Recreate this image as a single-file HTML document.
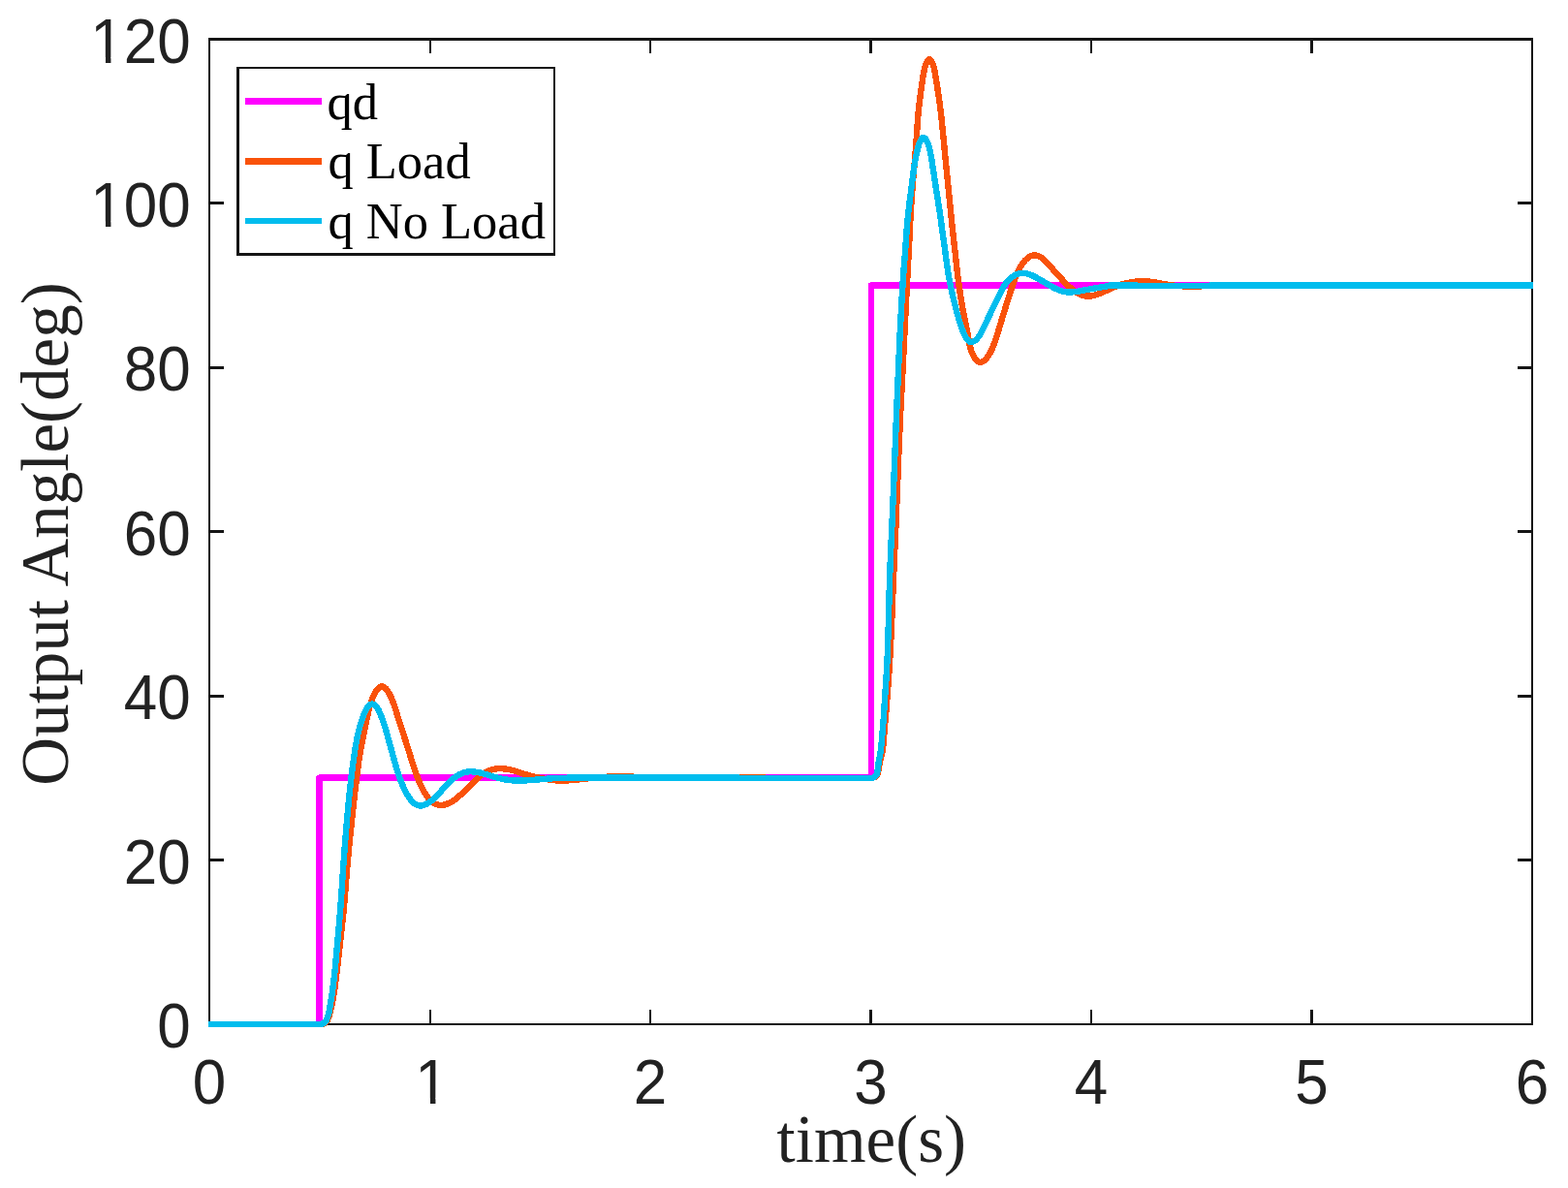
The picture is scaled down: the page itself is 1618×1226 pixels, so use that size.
<!DOCTYPE html>
<html lang="en">
<head>
<meta charset="utf-8">
<title>Output Angle vs time</title>
<style>
html,body{margin:0;padding:0;background:#ffffff;}
body{width:1618px;height:1226px;overflow:hidden;}
svg{display:block;}
</style>
</head>
<body>
<svg width="1618" height="1226" viewBox="0 0 1618 1226">
<rect x="0" y="0" width="1618" height="1226" fill="#ffffff"/>
<g fill="#151515" shape-rendering="crispEdges">
<rect x="215" y="39" width="1367" height="3"/>
<rect x="215" y="1056" width="1367" height="2"/>
<rect x="215" y="39" width="2" height="1019"/>
<rect x="1580" y="39" width="2" height="1019"/>
<rect x="443" y="1042" width="2" height="14"/>
<rect x="443" y="42" width="2" height="13"/>
<rect x="670" y="1042" width="2" height="14"/>
<rect x="670" y="42" width="2" height="13"/>
<rect x="897" y="1042" width="3" height="14"/>
<rect x="897" y="42" width="3" height="13"/>
<rect x="1125" y="1042" width="2" height="14"/>
<rect x="1125" y="42" width="2" height="13"/>
<rect x="1352" y="1042" width="3" height="14"/>
<rect x="1352" y="42" width="3" height="13"/>
<rect x="217" y="886" width="14" height="3"/>
<rect x="1566" y="886" width="14" height="3"/>
<rect x="217" y="717" width="14" height="3"/>
<rect x="1566" y="717" width="14" height="3"/>
<rect x="217" y="547" width="14" height="3"/>
<rect x="1566" y="547" width="14" height="3"/>
<rect x="217" y="378" width="14" height="3"/>
<rect x="1566" y="378" width="14" height="3"/>
<rect x="217" y="208" width="14" height="3"/>
<rect x="1566" y="208" width="14" height="3"/>
</g>
<path d="M215.0,1057.0 L329.5,1057.0 L329.5,802.6 L899.0,802.6 L899.0,294.6 L1582.0,294.6" fill="none" shape-rendering="crispEdges" stroke="#FF00FF" stroke-width="6.4" stroke-linejoin="round"/>
<path d="M215.00,1057.00 L331.05,1057.09 C333.44,1056.76 335.70,1056.06 337.10,1054.21 C338.49,1052.35 339.13,1049.95 339.79,1047.66 C340.44,1045.36 341.03,1043.09 341.56,1040.81 C342.10,1038.52 342.59,1036.23 343.04,1033.92 C343.49,1031.61 343.90,1029.30 344.29,1026.97 C344.68,1024.64 345.03,1022.31 345.37,1019.98 C345.71,1017.65 346.04,1015.31 346.34,1012.98 C346.65,1010.64 346.95,1008.30 347.23,1005.97 C347.51,1003.63 347.79,1001.29 348.06,998.95 C348.32,996.62 348.59,994.28 348.85,991.94 C349.10,989.60 349.36,987.26 349.62,984.92 C349.88,982.58 350.14,980.24 350.41,977.91 C350.67,975.57 350.94,973.23 351.21,970.89 C351.48,968.55 351.75,966.21 352.02,963.87 C352.29,961.54 352.56,959.20 352.82,956.86 C353.08,954.52 353.34,952.18 353.59,949.84 C353.84,947.50 354.08,945.16 354.31,942.81 C354.55,940.47 354.77,938.13 354.98,935.78 C355.18,933.44 355.38,931.09 355.58,928.75 C355.77,926.40 355.96,924.05 356.14,921.71 C356.32,919.36 356.50,917.01 356.68,914.67 C356.86,912.32 357.04,909.97 357.22,907.62 C357.41,905.28 357.59,902.93 357.79,900.58 C357.98,898.24 358.18,895.89 358.39,893.55 C358.59,891.20 358.81,888.86 359.03,886.52 C359.24,884.17 359.47,881.83 359.69,879.49 C359.92,877.14 360.15,874.80 360.39,872.46 C360.62,870.11 360.86,867.77 361.10,865.43 C361.34,863.09 361.58,860.75 361.82,858.41 C362.06,856.06 362.30,853.72 362.54,851.38 C362.79,849.04 363.03,846.70 363.28,844.36 C363.52,842.02 363.77,839.67 364.02,837.33 C364.27,834.99 364.53,832.65 364.79,830.31 C365.04,827.97 365.30,825.63 365.57,823.30 C365.83,820.96 366.10,818.62 366.38,816.28 C366.65,813.94 366.93,811.60 367.21,809.27 C367.49,806.93 367.78,804.59 368.07,802.26 C368.35,799.92 368.65,797.58 368.95,795.25 C369.24,792.91 369.55,790.58 369.87,788.25 C370.19,785.91 370.53,783.58 370.89,781.26 C371.25,778.93 371.63,776.61 372.03,774.29 C372.44,771.97 372.86,769.66 373.30,767.35 C373.74,765.04 374.20,762.73 374.66,760.43 C375.13,758.14 375.60,755.84 376.09,753.55 C376.57,751.25 377.06,748.95 377.55,746.64 C378.05,744.33 378.56,742.00 379.07,739.65 C379.58,737.30 380.09,734.93 380.67,732.56 C381.24,730.18 381.87,727.81 382.61,725.45 C383.35,723.10 384.20,720.77 385.21,718.48 C386.22,716.19 387.39,713.88 388.75,712.02 C390.10,710.16 391.67,708.71 393.31,708.37 C394.94,708.03 396.61,709.00 398.08,710.56 C399.55,712.12 400.85,714.27 402.00,716.50 C403.16,718.74 404.17,721.03 405.08,723.33 C405.99,725.63 406.80,727.95 407.56,730.27 C408.32,732.59 409.02,734.91 409.73,737.21 C410.43,739.52 411.14,741.80 411.86,744.06 C412.59,746.32 413.32,748.56 414.06,750.80 C414.80,753.03 415.54,755.25 416.27,757.48 C417.00,759.71 417.71,761.95 418.42,764.19 C419.13,766.43 419.83,768.67 420.53,770.92 C421.23,773.16 421.92,775.41 422.61,777.66 C423.31,779.91 424.00,782.16 424.71,784.40 C425.41,786.64 426.13,788.88 426.87,791.12 C427.61,793.36 428.37,795.60 429.16,797.82 C429.95,800.05 430.78,802.28 431.66,804.49 C432.54,806.70 433.48,808.89 434.50,811.06 C435.53,813.22 436.64,815.35 437.86,817.43 C439.08,819.51 440.41,821.57 441.90,823.45 C443.39,825.34 445.04,827.04 446.90,828.35 C448.77,829.67 450.84,830.59 453.03,830.90 C455.22,831.20 457.51,830.89 459.76,830.21 C462.00,829.53 464.18,828.49 466.25,827.26 C468.31,826.03 470.25,824.60 472.09,823.07 C473.94,821.55 475.69,819.92 477.40,818.26 C479.11,816.60 480.79,814.92 482.47,813.24 C484.14,811.56 485.81,809.89 487.50,808.22 C489.18,806.55 490.88,804.88 492.63,803.29 C494.39,801.70 496.20,800.20 498.14,798.88 C500.07,797.56 502.14,796.44 504.30,795.55 C506.46,794.66 508.71,794.00 511.01,793.60 C513.31,793.20 515.66,793.09 518.01,793.19 C520.36,793.28 522.71,793.59 525.02,794.04 C527.34,794.49 529.62,795.09 531.88,795.78 C534.14,796.47 536.38,797.23 538.62,797.97 C540.86,798.70 543.11,799.40 545.37,800.05 C547.64,800.70 549.91,801.29 552.21,801.82 C554.50,802.35 556.81,802.83 559.12,803.27 C561.44,803.72 563.76,804.13 566.09,804.48 C568.42,804.83 570.76,805.12 573.10,805.31 C575.44,805.51 577.79,805.61 580.14,805.60 C582.49,805.59 584.84,805.47 587.19,805.29 C589.54,805.12 591.88,804.90 594.23,804.65 C596.57,804.41 598.91,804.15 601.25,803.89 C603.59,803.62 605.93,803.36 608.28,803.12 C610.62,802.88 612.96,802.66 615.31,802.46 C617.66,802.26 620.00,802.09 622.35,801.93 C624.70,801.78 627.05,801.64 629.41,801.54 C631.76,801.43 634.11,801.35 636.46,801.32 C638.82,801.29 641.17,801.30 643.52,801.35 C645.87,801.40 648.23,801.48 650.58,801.58 C652.93,801.67 655.29,801.77 657.64,801.87 C659.99,801.96 662.34,802.05 664.70,802.14 C667.05,802.22 669.40,802.30 671.76,802.36 C674.11,802.43 676.46,802.48 678.81,802.53 C681.17,802.57 683.52,802.60 685.88,802.62 C688.23,802.63 690.58,802.64 692.94,802.65 C695.29,802.65 697.65,802.65 700.00,802.65 L900.60,802.77 C902.91,802.28 904.80,801.18 905.61,798.95 C906.43,796.73 906.67,794.30 906.95,791.95 C907.22,789.60 907.63,787.29 908.22,785.02 C908.80,782.75 909.48,780.50 909.98,778.22 C910.49,775.94 910.86,773.63 911.16,771.30 C911.45,768.98 911.66,766.64 911.85,764.29 C912.03,761.95 912.19,759.60 912.38,757.26 C912.56,754.92 912.76,752.58 912.96,750.25 C913.16,747.91 913.36,745.58 913.57,743.25 C913.77,740.91 913.97,738.58 914.17,736.25 C914.37,733.91 914.56,731.58 914.75,729.24 C914.94,726.91 915.13,724.57 915.31,722.23 C915.50,719.90 915.68,717.56 915.86,715.22 C916.05,712.89 916.22,710.55 916.40,708.21 C916.57,705.88 916.75,703.54 916.91,701.20 C917.08,698.86 917.24,696.53 917.39,694.19 C917.54,691.85 917.69,689.51 917.84,687.17 C917.98,684.83 918.12,682.49 918.25,680.16 C918.39,677.82 918.52,675.48 918.64,673.14 C918.77,670.80 918.89,668.46 919.01,666.12 C919.13,663.77 919.25,661.43 919.36,659.09 C919.47,656.75 919.58,654.41 919.69,652.07 C919.79,649.73 919.90,647.39 920.00,645.05 C920.10,642.71 920.21,640.36 920.30,638.02 C920.40,635.68 920.50,633.34 920.60,631.00 C920.70,628.66 920.79,626.31 920.89,623.97 C920.98,621.63 921.08,619.29 921.17,616.95 C921.27,614.60 921.36,612.26 921.46,609.92 C921.56,607.58 921.65,605.24 921.75,602.90 C921.85,600.55 921.95,598.21 922.05,595.87 C922.15,593.53 922.25,591.19 922.35,588.85 C922.45,586.51 922.56,584.16 922.66,581.82 C922.76,579.48 922.87,577.14 922.97,574.80 C923.08,572.46 923.18,570.12 923.28,567.78 C923.39,565.44 923.49,563.09 923.60,560.75 C923.70,558.41 923.80,556.07 923.91,553.73 C924.01,551.39 924.11,549.05 924.21,546.71 C924.31,544.36 924.41,542.02 924.51,539.68 C924.61,537.34 924.71,535.00 924.80,532.66 C924.90,530.32 924.99,527.98 925.09,525.63 C925.18,523.29 925.28,520.95 925.37,518.61 C925.46,516.27 925.55,513.93 925.64,511.58 C925.74,509.24 925.83,506.90 925.92,504.56 C926.01,502.22 926.10,499.87 926.19,497.53 C926.28,495.19 926.37,492.85 926.46,490.51 C926.55,488.17 926.65,485.82 926.74,483.48 C926.83,481.14 926.92,478.80 927.02,476.46 C927.11,474.12 927.20,471.77 927.30,469.43 C927.39,467.09 927.49,464.75 927.59,462.41 C927.69,460.07 927.78,457.73 927.88,455.38 C927.99,453.04 928.09,450.70 928.19,448.36 C928.29,446.02 928.40,443.68 928.51,441.34 C928.61,439.00 928.72,436.66 928.84,434.31 C928.95,431.97 929.06,429.63 929.17,427.29 C929.29,424.95 929.41,422.61 929.52,420.27 C929.64,417.93 929.76,415.59 929.88,413.25 C930.00,410.91 930.12,408.57 930.24,406.23 C930.36,403.89 930.48,401.55 930.60,399.21 C930.72,396.87 930.85,394.53 930.97,392.19 C931.09,389.85 931.21,387.51 931.33,385.17 C931.45,382.83 931.57,380.48 931.69,378.14 C931.81,375.80 931.93,373.46 932.05,371.12 C932.17,368.78 932.29,366.44 932.41,364.10 C932.53,361.76 932.64,359.42 932.76,357.08 C932.88,354.74 933.00,352.40 933.11,350.06 C933.23,347.72 933.35,345.38 933.46,343.04 C933.58,340.70 933.70,338.36 933.81,336.01 C933.93,333.67 934.05,331.33 934.16,328.99 C934.28,326.65 934.40,324.31 934.51,321.97 C934.63,319.63 934.75,317.29 934.87,314.95 C934.98,312.61 935.10,310.27 935.22,307.93 C935.34,305.59 935.46,303.25 935.58,300.91 C935.70,298.57 935.82,296.23 935.94,293.89 C936.06,291.55 936.18,289.21 936.30,286.87 C936.43,284.52 936.55,282.18 936.67,279.84 C936.80,277.50 936.92,275.16 937.05,272.82 C937.17,270.48 937.30,268.14 937.42,265.80 C937.55,263.46 937.67,261.12 937.79,258.78 C937.92,256.44 938.04,254.10 938.15,251.76 C938.27,249.42 938.39,247.08 938.51,244.74 C938.62,242.40 938.74,240.06 938.85,237.72 C938.97,235.38 939.08,233.04 939.20,230.70 C939.31,228.36 939.43,226.02 939.56,223.68 C939.68,221.33 939.81,218.99 939.95,216.66 C940.09,214.32 940.23,211.98 940.38,209.64 C940.53,207.30 940.69,204.96 940.86,202.62 C941.03,200.29 941.20,197.95 941.38,195.61 C941.57,193.28 941.75,190.94 941.94,188.61 C942.14,186.27 942.33,183.93 942.53,181.60 C942.73,179.26 942.93,176.93 943.13,174.59 C943.33,172.26 943.53,169.92 943.72,167.59 C943.92,165.25 944.12,162.92 944.32,160.58 C944.51,158.25 944.70,155.91 944.89,153.58 C945.08,151.24 945.26,148.90 945.44,146.57 C945.61,144.23 945.78,141.89 945.94,139.55 C946.10,137.22 946.25,134.88 946.40,132.54 C946.55,130.20 946.70,127.86 946.87,125.52 C947.04,123.18 947.22,120.85 947.42,118.52 C947.62,116.18 947.85,113.86 948.10,111.53 C948.35,109.20 948.61,106.88 948.90,104.56 C949.19,102.24 949.50,99.93 949.82,97.62 C950.14,95.31 950.47,93.00 950.79,90.66 C951.12,88.31 951.42,85.95 951.75,83.52 C952.09,81.09 952.47,78.58 952.94,76.04 C953.42,73.49 953.99,70.93 954.72,68.50 C955.46,66.07 956.35,63.78 957.35,62.42 C958.36,61.06 959.49,60.87 960.50,62.03 C961.51,63.18 962.40,65.36 963.12,67.76 C963.85,70.16 964.40,72.72 964.87,75.28 C965.34,77.83 965.74,80.36 966.12,82.80 C966.50,85.24 966.85,87.61 967.21,89.95 C967.57,92.29 967.93,94.60 968.28,96.91 C968.63,99.21 968.97,101.52 969.29,103.83 C969.61,106.14 969.91,108.46 970.20,110.78 C970.49,113.10 970.76,115.43 971.02,117.76 C971.28,120.08 971.54,122.41 971.79,124.74 C972.04,127.07 972.28,129.41 972.52,131.74 C972.76,134.07 972.99,136.40 973.22,138.73 C973.45,141.07 973.67,143.40 973.90,145.73 C974.12,148.07 974.34,150.40 974.56,152.73 C974.78,155.07 975.00,157.40 975.22,159.73 C975.44,162.06 975.67,164.40 975.90,166.73 C976.12,169.06 976.35,171.39 976.58,173.73 C976.82,176.06 977.05,178.39 977.28,180.72 C977.51,183.05 977.75,185.39 977.98,187.72 C978.22,190.05 978.45,192.38 978.69,194.71 C978.92,197.04 979.16,199.38 979.39,201.71 C979.63,204.04 979.87,206.37 980.10,208.70 C980.34,211.03 980.57,213.36 980.81,215.70 C981.04,218.03 981.28,220.36 981.51,222.69 C981.74,225.02 981.98,227.36 982.21,229.69 C982.45,232.02 982.69,234.35 982.94,236.68 C983.18,239.01 983.44,241.34 983.70,243.67 C983.96,246.00 984.23,248.33 984.50,250.65 C984.76,252.98 985.03,255.31 985.30,257.64 C985.56,259.97 985.83,262.30 986.08,264.63 C986.33,266.96 986.58,269.29 986.82,271.62 C987.06,273.95 987.31,276.28 987.57,278.61 C987.82,280.94 988.09,283.26 988.38,285.59 C988.67,287.92 988.98,290.24 989.30,292.56 C989.62,294.88 989.96,297.20 990.30,299.52 C990.65,301.84 991.00,304.16 991.35,306.47 C991.71,308.79 992.07,311.11 992.46,313.42 C992.84,315.73 993.25,318.04 993.69,320.34 C994.13,322.64 994.61,324.93 995.10,327.21 C995.59,329.50 996.08,331.79 996.54,334.08 C997.00,336.37 997.44,338.67 997.85,340.98 C998.26,343.28 998.64,345.60 999.04,347.93 C999.44,350.26 999.86,352.61 1000.38,354.97 C1000.89,357.33 1001.49,359.70 1002.28,362.05 C1003.07,364.41 1004.04,366.76 1005.27,368.82 C1006.50,370.88 1007.98,372.62 1009.67,373.39 C1011.35,374.16 1013.23,373.73 1014.97,372.53 C1016.71,371.34 1018.32,369.45 1019.71,367.38 C1021.11,365.30 1022.29,363.05 1023.33,360.81 C1024.37,358.57 1025.27,356.33 1026.09,354.08 C1026.92,351.84 1027.68,349.60 1028.40,347.36 C1029.12,345.13 1029.81,342.89 1030.49,340.65 C1031.17,338.41 1031.83,336.17 1032.50,333.93 C1033.17,331.69 1033.85,329.45 1034.54,327.21 C1035.23,324.97 1035.92,322.73 1036.61,320.50 C1037.31,318.26 1038.00,316.02 1038.69,313.78 C1039.38,311.55 1040.08,309.31 1040.79,307.08 C1041.49,304.85 1042.20,302.61 1042.92,300.38 C1043.63,298.14 1044.36,295.90 1045.11,293.65 C1045.86,291.40 1046.64,289.13 1047.49,286.89 C1048.33,284.64 1049.25,282.41 1050.28,280.24 C1051.30,278.07 1052.45,275.96 1053.75,273.95 C1055.05,271.94 1056.52,269.99 1058.18,268.29 C1059.84,266.59 1061.68,265.14 1063.68,264.27 C1065.68,263.39 1067.81,263.18 1069.89,263.70 C1071.98,264.23 1074.00,265.40 1075.85,266.87 C1077.70,268.34 1079.41,270.12 1081.06,271.92 C1082.71,273.73 1084.29,275.56 1085.88,277.35 C1087.47,279.14 1089.04,280.89 1090.62,282.64 C1092.20,284.38 1093.78,286.11 1095.38,287.84 C1096.97,289.56 1098.58,291.28 1100.24,292.95 C1101.91,294.62 1103.62,296.24 1105.42,297.78 C1107.22,299.32 1109.10,300.76 1111.09,302.00 C1113.09,303.24 1115.19,304.27 1117.38,304.92 C1119.57,305.57 1121.85,305.82 1124.14,305.67 C1126.43,305.53 1128.74,305.03 1130.99,304.33 C1133.23,303.64 1135.44,302.74 1137.61,301.76 C1139.78,300.79 1141.90,299.73 1144.03,298.71 C1146.16,297.68 1148.29,296.70 1150.47,295.85 C1152.65,295.00 1154.87,294.27 1157.13,293.63 C1159.38,292.98 1161.65,292.41 1163.95,291.93 C1166.25,291.44 1168.56,291.03 1170.89,290.74 C1173.21,290.44 1175.55,290.25 1177.89,290.21 C1180.22,290.17 1182.56,290.28 1184.89,290.51 C1187.22,290.74 1189.54,291.07 1191.86,291.45 C1194.17,291.83 1196.48,292.26 1198.79,292.68 C1201.10,293.10 1203.41,293.51 1205.73,293.87 C1208.05,294.23 1210.37,294.53 1212.70,294.77 C1215.03,295.00 1217.37,295.17 1219.71,295.29 C1222.05,295.40 1224.39,295.47 1226.73,295.49 C1229.08,295.52 1231.42,295.50 1233.76,295.46 C1236.11,295.42 1238.45,295.36 1240.79,295.28 C1243.14,295.21 1245.48,295.13 1247.82,295.05 C1250.16,294.97 1252.51,294.90 1254.85,294.84 C1257.19,294.78 1259.54,294.73 1261.88,294.70 C1264.22,294.66 1266.57,294.64 1268.91,294.62 C1271.25,294.61 1273.60,294.60 1275.94,294.60 C1278.28,294.59 1280.63,294.59 1282.97,294.59 C1285.31,294.59 1287.66,294.60 1290.00,294.60 L1582.00,294.60" fill="none" shape-rendering="crispEdges" stroke="#F9520A" stroke-width="6.4" stroke-linejoin="round"/>
<path d="M215.00,1057.00 L331.07,1057.11 C333.33,1056.51 335.36,1055.35 336.58,1053.37 C337.80,1051.38 338.43,1049.01 338.99,1046.71 C339.55,1044.42 339.97,1042.11 340.35,1039.80 C340.74,1037.50 341.12,1035.18 341.49,1032.87 C341.85,1030.55 342.21,1028.23 342.55,1025.91 C342.89,1023.59 343.21,1021.27 343.52,1018.94 C343.83,1016.62 344.12,1014.29 344.39,1011.96 C344.67,1009.63 344.93,1007.30 345.18,1004.97 C345.43,1002.64 345.67,1000.30 345.90,997.97 C346.13,995.63 346.35,993.30 346.57,990.97 C346.79,988.63 347.00,986.29 347.21,983.96 C347.43,981.62 347.64,979.29 347.85,976.95 C348.06,974.62 348.28,972.28 348.49,969.95 C348.70,967.61 348.91,965.27 349.12,962.94 C349.33,960.60 349.53,958.27 349.74,955.93 C349.94,953.59 350.14,951.26 350.33,948.92 C350.53,946.58 350.72,944.25 350.91,941.91 C351.09,939.57 351.27,937.23 351.44,934.90 C351.62,932.56 351.79,930.22 351.95,927.88 C352.11,925.54 352.28,923.20 352.44,920.86 C352.59,918.52 352.75,916.18 352.91,913.84 C353.06,911.50 353.22,909.16 353.38,906.82 C353.54,904.48 353.69,902.14 353.85,899.80 C354.02,897.46 354.18,895.12 354.35,892.78 C354.51,890.45 354.68,888.11 354.85,885.77 C355.03,883.43 355.20,881.09 355.38,878.75 C355.56,876.41 355.74,874.08 355.92,871.74 C356.10,869.40 356.29,867.06 356.48,864.72 C356.67,862.39 356.86,860.05 357.06,857.71 C357.25,855.38 357.45,853.04 357.65,850.70 C357.86,848.37 358.06,846.03 358.27,843.70 C358.48,841.36 358.69,839.02 358.91,836.69 C359.13,834.35 359.35,832.02 359.58,829.69 C359.80,827.35 360.04,825.02 360.27,822.68 C360.51,820.35 360.75,818.02 361.00,815.69 C361.24,813.36 361.50,811.02 361.76,808.69 C362.02,806.36 362.29,804.03 362.56,801.70 C362.84,799.38 363.13,797.05 363.43,794.72 C363.73,792.39 364.03,790.07 364.35,787.75 C364.67,785.42 364.99,783.10 365.33,780.78 C365.66,778.46 366.00,776.14 366.36,773.83 C366.72,771.52 367.10,769.21 367.52,766.90 C367.93,764.59 368.37,762.29 368.86,760.00 C369.35,757.70 369.89,755.42 370.48,753.13 C371.08,750.83 371.73,748.54 372.44,746.23 C373.15,743.92 373.93,741.59 374.78,739.24 C375.64,736.88 376.57,734.51 377.73,732.37 C378.89,730.23 380.30,728.32 381.87,727.31 C383.45,726.30 385.15,726.48 386.71,727.69 C388.26,728.89 389.63,730.91 390.77,733.08 C391.92,735.25 392.85,737.63 393.73,739.97 C394.60,742.30 395.39,744.61 396.14,746.90 C396.88,749.20 397.58,751.47 398.24,753.74 C398.91,756.00 399.54,758.26 400.17,760.52 C400.81,762.78 401.43,765.04 402.05,767.30 C402.67,769.55 403.29,771.81 403.90,774.07 C404.52,776.33 405.14,778.58 405.77,780.84 C406.39,783.09 407.03,785.35 407.68,787.60 C408.33,789.85 409.00,792.09 409.70,794.34 C410.40,796.58 411.13,798.82 411.89,801.05 C412.66,803.28 413.47,805.50 414.35,807.71 C415.23,809.92 416.18,812.12 417.21,814.29 C418.25,816.47 419.38,818.64 420.63,820.75 C421.88,822.87 423.26,824.91 424.83,826.65 C426.40,828.39 428.19,829.85 430.15,830.71 C432.12,831.56 434.24,831.70 436.38,831.17 C438.52,830.64 440.67,829.55 442.69,828.25 C444.70,826.96 446.61,825.41 448.39,823.75 C450.17,822.09 451.81,820.32 453.38,818.52 C454.96,816.72 456.47,814.88 458.03,813.09 C459.58,811.29 461.18,809.53 462.86,807.86 C464.55,806.19 466.31,804.61 468.17,803.16 C470.03,801.70 471.99,800.36 474.04,799.26 C476.10,798.16 478.25,797.29 480.49,796.79 C482.72,796.29 485.04,796.16 487.37,796.29 C489.71,796.41 492.05,796.78 494.37,797.27 C496.68,797.77 498.97,798.40 501.24,799.07 C503.51,799.75 505.75,800.47 508.01,801.15 C510.26,801.83 512.52,802.48 514.80,803.04 C517.07,803.61 519.37,804.09 521.68,804.47 C523.99,804.86 526.31,805.14 528.65,805.33 C530.98,805.53 533.32,805.61 535.67,805.61 C538.01,805.61 540.36,805.53 542.70,805.40 C545.04,805.27 547.38,805.10 549.72,804.91 C552.06,804.72 554.40,804.51 556.73,804.30 C559.07,804.10 561.41,803.90 563.75,803.72 C566.09,803.54 568.43,803.38 570.77,803.24 C573.11,803.10 575.45,802.98 577.79,802.90 C580.14,802.81 582.48,802.75 584.82,802.71 C587.17,802.67 589.51,802.65 591.86,802.64 C594.20,802.64 596.55,802.64 598.89,802.64 C601.24,802.65 603.59,802.65 605.93,802.65 C608.28,802.65 610.62,802.65 612.97,802.65 C615.31,802.65 617.66,802.65 620.00,802.65 L900.61,802.77 C902.80,801.96 904.45,800.54 905.07,798.24 C905.70,795.95 905.88,793.54 906.10,791.20 C906.32,788.85 906.67,786.54 907.10,784.24 C907.54,781.94 908.02,779.65 908.39,777.34 C908.76,775.03 909.06,772.71 909.31,770.38 C909.57,768.05 909.78,765.72 909.98,763.38 C910.17,761.05 910.36,758.71 910.55,756.38 C910.74,754.04 910.94,751.71 911.13,749.38 C911.31,747.04 911.50,744.71 911.67,742.38 C911.84,740.04 912.01,737.71 912.16,735.37 C912.31,733.04 912.45,730.70 912.59,728.37 C912.74,726.03 912.88,723.69 913.03,721.36 C913.18,719.02 913.34,716.69 913.50,714.35 C913.66,712.02 913.83,709.68 913.99,707.35 C914.15,705.01 914.31,702.68 914.46,700.34 C914.61,698.00 914.76,695.67 914.89,693.33 C915.02,691.00 915.15,688.66 915.27,686.32 C915.38,683.98 915.49,681.65 915.60,679.31 C915.70,676.97 915.80,674.63 915.89,672.29 C915.98,669.95 916.07,667.62 916.15,665.28 C916.23,662.94 916.31,660.60 916.38,658.26 C916.45,655.92 916.52,653.58 916.59,651.24 C916.66,648.90 916.72,646.56 916.78,644.22 C916.85,641.88 916.91,639.54 916.97,637.20 C917.03,634.86 917.08,632.52 917.14,630.18 C917.20,627.83 917.26,625.49 917.32,623.15 C917.38,620.81 917.44,618.47 917.50,616.13 C917.57,613.79 917.63,611.45 917.70,609.11 C917.77,606.77 917.84,604.43 917.91,602.09 C917.99,599.75 918.07,597.41 918.15,595.07 C918.23,592.73 918.32,590.39 918.41,588.06 C918.50,585.72 918.59,583.38 918.69,581.04 C918.78,578.70 918.88,576.36 918.98,574.02 C919.08,571.68 919.18,569.35 919.28,567.01 C919.39,564.67 919.49,562.33 919.60,559.99 C919.70,557.65 919.81,555.32 919.91,552.98 C920.02,550.64 920.13,548.30 920.23,545.96 C920.34,543.62 920.44,541.29 920.55,538.95 C920.65,536.61 920.75,534.27 920.85,531.93 C920.95,529.59 921.05,527.25 921.15,524.92 C921.25,522.58 921.35,520.24 921.45,517.90 C921.55,515.56 921.64,513.22 921.74,510.88 C921.83,508.55 921.93,506.21 922.02,503.87 C922.12,501.53 922.21,499.19 922.31,496.85 C922.40,494.51 922.50,492.17 922.59,489.83 C922.68,487.50 922.77,485.16 922.87,482.82 C922.96,480.48 923.05,478.14 923.15,475.80 C923.24,473.46 923.33,471.12 923.42,468.78 C923.51,466.45 923.61,464.11 923.70,461.77 C923.79,459.43 923.89,457.09 923.98,454.75 C924.07,452.41 924.17,450.07 924.26,447.73 C924.35,445.40 924.45,443.06 924.54,440.72 C924.64,438.38 924.73,436.04 924.83,433.70 C924.93,431.36 925.02,429.02 925.12,426.69 C925.22,424.35 925.31,422.01 925.41,419.67 C925.51,417.33 925.61,414.99 925.71,412.65 C925.80,410.32 925.90,407.98 926.00,405.64 C926.10,403.30 926.20,400.96 926.30,398.62 C926.40,396.28 926.50,393.95 926.60,391.61 C926.70,389.27 926.80,386.93 926.90,384.59 C927.00,382.25 927.10,379.91 927.20,377.57 C927.30,375.24 927.41,372.90 927.51,370.56 C927.61,368.22 927.71,365.88 927.81,363.54 C927.92,361.20 928.02,358.87 928.12,356.53 C928.23,354.19 928.34,351.85 928.44,349.51 C928.55,347.17 928.66,344.83 928.77,342.50 C928.88,340.16 929.00,337.82 929.11,335.48 C929.23,333.14 929.35,330.81 929.47,328.47 C929.59,326.13 929.71,323.79 929.84,321.45 C929.96,319.12 930.09,316.78 930.22,314.44 C930.36,312.11 930.49,309.77 930.63,307.43 C930.77,305.10 930.91,302.76 931.06,300.42 C931.21,298.09 931.36,295.75 931.51,293.42 C931.67,291.08 931.83,288.75 931.99,286.41 C932.16,284.08 932.33,281.74 932.50,279.41 C932.67,277.07 932.85,274.74 933.03,272.41 C933.22,270.07 933.40,267.74 933.58,265.41 C933.76,263.07 933.93,260.74 934.10,258.40 C934.27,256.07 934.44,253.73 934.60,251.40 C934.77,249.06 934.93,246.73 935.10,244.39 C935.26,242.06 935.44,239.72 935.62,237.39 C935.80,235.06 936.00,232.72 936.20,230.39 C936.41,228.06 936.63,225.73 936.87,223.40 C937.10,221.07 937.36,218.75 937.63,216.42 C937.90,214.10 938.18,211.77 938.48,209.45 C938.77,207.13 939.07,204.80 939.37,202.48 C939.66,200.16 939.96,197.84 940.25,195.52 C940.54,193.20 940.83,190.89 941.12,188.57 C941.41,186.25 941.71,183.94 942.01,181.62 C942.31,179.31 942.61,177.00 942.94,174.68 C943.27,172.37 943.63,170.04 944.03,167.68 C944.43,165.33 944.88,162.94 945.38,160.48 C945.88,158.02 946.42,155.47 947.08,152.99 C947.74,150.50 948.51,148.04 949.46,145.96 C950.40,143.89 951.53,142.26 952.72,142.03 C953.91,141.80 955.12,143.12 956.14,145.02 C957.16,146.91 958.01,149.34 958.70,151.80 C959.39,154.26 959.93,156.82 960.40,159.31 C960.87,161.79 961.27,164.21 961.65,166.59 C962.02,168.97 962.38,171.30 962.73,173.62 C963.09,175.94 963.43,178.24 963.78,180.55 C964.13,182.86 964.47,185.16 964.82,187.47 C965.16,189.78 965.51,192.09 965.87,194.40 C966.22,196.71 966.58,199.02 966.94,201.33 C967.31,203.64 967.68,205.95 968.05,208.26 C968.42,210.58 968.79,212.89 969.14,215.20 C969.50,217.52 969.85,219.83 970.18,222.15 C970.51,224.46 970.83,226.78 971.15,229.10 C971.46,231.42 971.77,233.74 972.09,236.06 C972.40,238.38 972.71,240.70 973.03,243.02 C973.35,245.34 973.67,247.66 974.00,249.98 C974.32,252.29 974.64,254.61 974.96,256.93 C975.28,259.25 975.60,261.57 975.91,263.89 C976.22,266.21 976.53,268.53 976.84,270.85 C977.15,273.17 977.46,275.49 977.80,277.81 C978.14,280.13 978.50,282.44 978.90,284.74 C979.29,287.05 979.73,289.35 980.19,291.64 C980.65,293.94 981.14,296.23 981.65,298.51 C982.15,300.80 982.67,303.08 983.19,305.35 C983.71,307.63 984.25,309.90 984.79,312.17 C985.34,314.44 985.90,316.71 986.49,318.98 C987.08,321.24 987.69,323.50 988.34,325.76 C988.99,328.02 989.67,330.29 990.39,332.58 C991.11,334.88 991.88,337.19 992.75,339.50 C993.61,341.81 994.57,344.16 995.68,346.35 C996.79,348.55 998.04,350.62 999.51,351.86 C1000.98,353.11 1002.74,353.29 1004.51,352.44 C1006.29,351.59 1008.00,349.91 1009.49,347.96 C1010.99,346.01 1012.25,343.80 1013.39,341.61 C1014.53,339.41 1015.55,337.20 1016.54,335.01 C1017.54,332.82 1018.51,330.66 1019.52,328.54 C1020.52,326.41 1021.54,324.31 1022.57,322.21 C1023.60,320.12 1024.64,318.03 1025.67,315.94 C1026.70,313.84 1027.73,311.74 1028.73,309.62 C1029.74,307.50 1030.74,305.37 1031.78,303.25 C1032.81,301.12 1033.88,299.00 1035.06,296.94 C1036.24,294.87 1037.53,292.87 1039.01,291.02 C1040.50,289.17 1042.17,287.47 1044.03,286.05 C1045.88,284.64 1047.91,283.50 1050.07,282.78 C1052.23,282.07 1054.50,281.77 1056.76,281.96 C1059.01,282.14 1061.27,282.75 1063.46,283.60 C1065.66,284.45 1067.78,285.52 1069.86,286.69 C1071.94,287.85 1073.98,289.10 1076.03,290.33 C1078.07,291.56 1080.10,292.78 1082.15,293.97 C1084.20,295.16 1086.27,296.34 1088.37,297.41 C1090.46,298.48 1092.60,299.43 1094.79,300.15 C1096.98,300.88 1099.22,301.34 1101.51,301.48 C1103.80,301.61 1106.13,301.45 1108.47,301.18 C1110.80,300.91 1113.14,300.53 1115.50,300.11 C1117.85,299.69 1120.23,299.22 1122.62,298.75 C1125.02,298.28 1127.43,297.82 1129.85,297.39 C1132.27,296.96 1134.69,296.57 1136.85,296.24 C1139.01,295.91 1140.92,295.63 1142.25,295.41 C1143.57,295.19 1144.26,295.03 1144.06,294.93 C1143.87,294.82 1143.11,294.76 1143.70,294.72 C1144.30,294.68 1145.98,294.65 1148.29,294.64 C1150.60,294.62 1153.54,294.62 1156.65,294.62 C1159.77,294.63 1163.06,294.64 1166.07,294.66 C1169.08,294.67 1171.82,294.69 1173.82,294.71 C1175.82,294.74 1177.09,294.76 1177.17,294.77 C1177.25,294.79 1175.95,294.80 1174.04,294.81 C1172.13,294.81 1169.67,294.82 1167.64,294.83 C1165.61,294.84 1164.17,294.85 1163.52,294.87 C1162.87,294.89 1162.92,294.91 1163.56,294.93 C1164.20,294.95 1165.42,294.97 1167.12,295.00 C1168.81,295.02 1170.98,295.05 1173.51,295.07 C1176.03,295.09 1178.92,295.11 1182.05,295.13 C1185.17,295.15 1188.55,295.17 1192.05,295.18 C1195.56,295.20 1199.19,295.20 1202.84,295.21 C1206.49,295.21 1210.16,295.21 1213.73,295.19 C1217.30,295.18 1220.77,295.17 1224.03,295.14 C1227.29,295.11 1230.31,295.08 1233.07,295.03 C1235.83,294.99 1238.35,294.94 1240.73,294.89 C1243.10,294.83 1245.34,294.78 1247.52,294.73 C1249.71,294.69 1251.85,294.65 1254.05,294.62 C1256.24,294.59 1258.50,294.57 1260.80,294.57 C1263.11,294.56 1265.46,294.56 1267.83,294.57 C1270.21,294.58 1272.60,294.59 1275.00,294.60 L1582.00,294.60" fill="none" shape-rendering="crispEdges" stroke="#00BDEE" stroke-width="6.4" stroke-linejoin="round"/>
<rect x="244" y="69" width="329" height="195" fill="#ffffff"/>
<g fill="#151515" shape-rendering="crispEdges">
<rect x="244" y="69" width="329" height="2"/>
<rect x="244" y="261" width="329" height="3"/>
<rect x="244" y="69" width="3" height="195"/>
<rect x="571" y="69" width="2" height="195"/>
</g>
<g shape-rendering="crispEdges">
<rect x="253" y="101" width="79" height="7" fill="#FF00FF"/>
<rect x="253" y="163" width="79" height="7" fill="#F9520A"/>
<rect x="253" y="225" width="79" height="6" fill="#00BDEE"/>
</g>
<g font-family="'Liberation Serif', 'DejaVu Serif', serif" font-size="52.5" fill="#000000">
<text x="337.6" y="122.8">qd</text>
<text x="338.4" y="184.4">q Load</text>
<text x="338.4" y="246.0">q No Load</text>
</g>
<g font-family="'Liberation Sans', 'DejaVu Sans', sans-serif" font-size="62" fill="#222222">
<text transform="translate(216.00 1138.8) scale(1 1.045)" text-anchor="middle">0</text>
<text transform="translate(445.60 1138.8) scale(1 1.045)" text-anchor="middle">1</text>
<text transform="translate(671.00 1138.8) scale(1 1.045)" text-anchor="middle">2</text>
<text transform="translate(898.50 1138.8) scale(1 1.045)" text-anchor="middle">3</text>
<text transform="translate(1126.00 1138.8) scale(1 1.045)" text-anchor="middle">4</text>
<text transform="translate(1353.50 1138.8) scale(1 1.045)" text-anchor="middle">5</text>
<text transform="translate(1581.00 1138.8) scale(1 1.045)" text-anchor="middle">6</text>
<text transform="translate(196.8 1081.10) scale(1 1.045)" text-anchor="end">0</text>
<text transform="translate(196.8 911.67) scale(1 1.045)" text-anchor="end">20</text>
<text transform="translate(196.8 742.23) scale(1 1.045)" text-anchor="end">40</text>
<text transform="translate(196.8 572.80) scale(1 1.045)" text-anchor="end">60</text>
<text transform="translate(196.8 403.37) scale(1 1.045)" text-anchor="end">80</text>
<text transform="translate(196.8 233.93) scale(1 1.045)" text-anchor="end">100</text>
<text transform="translate(196.8 64.50) scale(1 1.045)" text-anchor="end">120</text>
</g>
<g><rect x="431.88" y="1133.36" width="12.07" height="6.44" fill="#ffffff"/><rect x="449.43" y="1133.36" width="11.58" height="6.44" fill="#ffffff"/><rect x="96.88" y="228.49" width="12.07" height="6.44" fill="#ffffff"/><rect x="114.43" y="228.49" width="11.58" height="6.44" fill="#ffffff"/><rect x="96.88" y="59.06" width="12.07" height="6.44" fill="#ffffff"/><rect x="114.43" y="59.06" width="11.58" height="6.44" fill="#ffffff"/></g>
<g font-family="'Liberation Serif', 'DejaVu Serif', serif" font-size="69" fill="#222222">
<text x="899.3" y="1199.1" text-anchor="middle">time(s)</text>
<text transform="translate(70.4 551) rotate(-90)" text-anchor="middle">Output Angle(deg)</text>
</g>
</svg>
</body>
</html>
